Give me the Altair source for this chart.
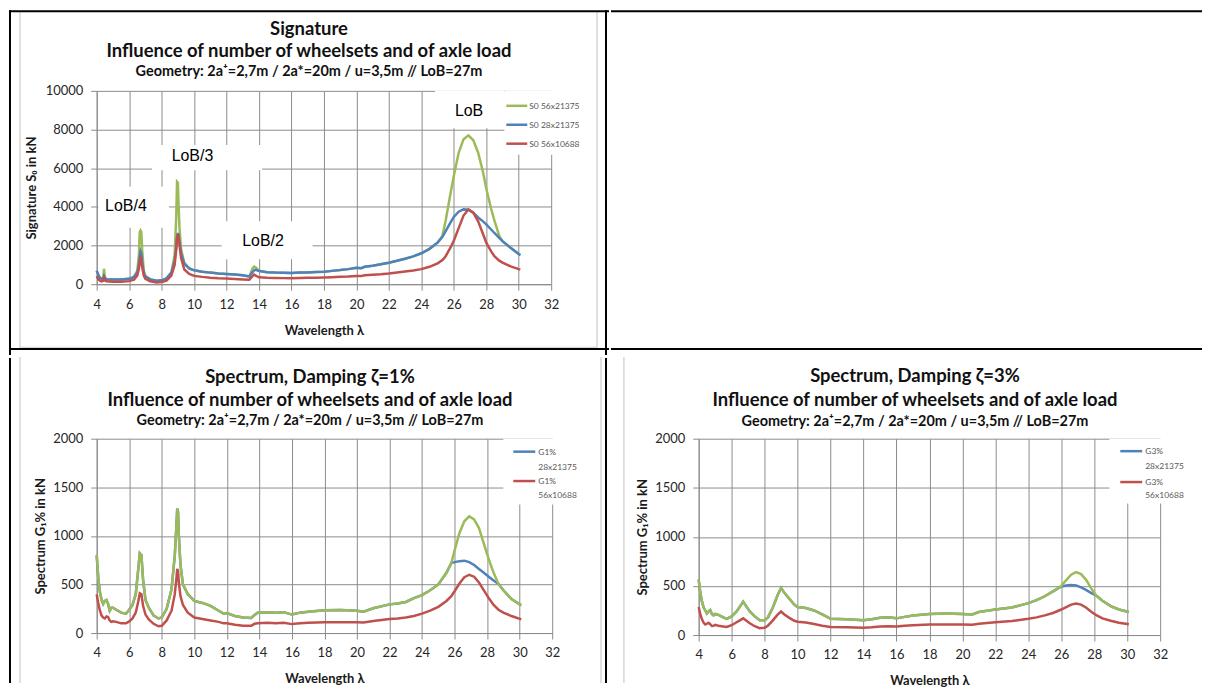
import altair as alt
import pandas as pd

# ---------------- data ----------------
TL_X = [4.0, 4.1, 4.2, 4.3, 4.4, 4.45, 4.5, 4.6, 5.0, 5.5, 6.0, 6.3, 6.5, 6.6, 6.65, 6.7, 6.75, 6.8, 6.9, 7.0,
        7.3, 7.7, 8.0, 8.3, 8.6, 8.8, 8.9, 8.95, 9.0, 9.05, 9.1, 9.2, 9.4, 9.7, 10.0, 10.5, 11.0, 11.5, 12.0, 12.5,
        13.0, 13.4, 13.6, 13.7, 13.8, 14.0, 14.5, 15.0, 15.5, 16.0, 16.5, 17.0, 17.5, 18.0, 18.5, 19.0, 19.5, 20.0,
        20.3, 20.5, 21.0, 21.5, 22.0, 22.5, 23.0, 23.5, 24.0, 24.5, 25.0, 25.3, 25.5, 25.8, 26.0, 26.3, 26.6, 26.9,
        27.2, 27.5, 27.8, 28.0, 28.3, 28.5, 28.8, 29.0, 29.5, 30.0, 30.1]
TL_S0_28x21375 = [700, 480, 330, 280, 300, 420, 320, 260, 240, 240, 280, 380, 600, 1000, 1450, 1700, 1600, 1150, 600, 400,
                  250, 180, 200, 300, 600, 1200, 1900, 2450, 2650, 2500, 2200, 1600, 1050, 820, 720, 650, 600, 560, 530, 500,
                  460, 400, 620, 720, 740, 680, 620, 600, 590, 580, 600, 610, 630, 650, 690, 730, 780, 850,
                  830, 900, 960, 1030, 1110, 1210, 1320, 1440, 1600, 1830, 2150, 2450, 2750, 3200, 3480, 3750, 3870, 3850,
                  3700, 3450, 3250, 3100, 2830, 2650, 2400, 2230, 1880, 1560, 1500]
TL_S0_56x21375 = [700, 480, 330, 280, 350, 800, 380, 260, 240, 240, 280, 380, 700, 1500, 2700, 2780, 2700, 1800, 700, 420,
                  250, 180, 200, 300, 600, 1500, 3500, 5300, 5250, 4000, 2900, 1800, 1100, 820, 720, 650, 600, 560, 530, 500,
                  460, 400, 820, 910, 860, 700, 620, 600, 590, 580, 600, 610, 630, 650, 690, 730, 780, 850,
                  830, 900, 960, 1030, 1110, 1210, 1320, 1440, 1600, 1830, 2150, 2500, 3300, 4700, 5600, 6800, 7500, 7700,
                  7450, 6800, 5800, 4950, 3900, 3300, 2500, 2230, 1880, 1560, 1500]
TL_S0_56x10688 = [420, 260, 180, 150, 180, 330, 200, 150, 130, 130, 160, 240, 450, 800, 1150, 1370, 1250, 900, 450, 280,
                  150, 90, 110, 190, 450, 1000, 1800, 2350, 2600, 2400, 2050, 1350, 760, 530, 430, 380, 340, 310, 290, 270,
                  250, 230, 420, 500, 440, 360, 330, 320, 315, 310, 320, 330, 335, 345, 360, 380, 400, 430,
                  420, 460, 490, 520, 560, 610, 660, 710, 780, 900, 1080, 1250, 1450, 1900, 2250, 2900, 3550, 3870,
                  3700, 3250, 2600, 2150, 1700, 1450, 1220, 1120, 920, 780, 760]

BL_X = [4.0, 4.1, 4.2, 4.3, 4.4, 4.5, 4.6, 4.7, 4.8, 4.9, 5.0, 5.2, 5.5, 5.8, 6.0, 6.2, 6.4, 6.55, 6.65, 6.75, 6.85, 7.0,
        7.2, 7.5, 7.8, 8.0, 8.3, 8.6, 8.8, 8.9, 8.95, 9.0, 9.05, 9.15, 9.3, 9.6, 10.0, 10.5, 11.0, 11.5, 11.8, 12.0,
        12.5, 13.0, 13.5, 13.7, 13.9, 14.5, 15.0, 15.5, 16.0, 16.5, 17.0, 18.0, 19.0, 20.0, 20.4, 21.0, 22.0, 22.5,
        23.0, 23.5, 24.0, 24.5, 25.0, 25.5, 25.8, 26.0, 26.3, 26.6, 26.9, 27.2, 27.5, 27.8, 28.1, 28.4, 28.7, 29.0,
        29.5, 30.1]
BL_G1_56x21375 = [800, 560, 420, 340, 300, 330, 340, 300, 230, 260, 260, 240, 210, 200, 240, 290, 400, 650, 820, 800, 550, 340,
                  260, 180, 150, 160, 250, 450, 800, 1100, 1280, 1250, 1000, 700, 500, 400, 330, 310, 280, 230, 200, 205,
                  175, 160, 155, 185, 210, 215, 210, 215, 190, 210, 220, 235, 238, 230, 220, 255, 295, 305,
                  320, 360, 390, 440, 500, 620, 720, 850, 1030, 1150, 1200, 1170, 1080, 920, 760, 620, 505, 440,
                  350, 285]
BL_G1_28x21375 = [800, 560, 420, 340, 300, 330, 340, 300, 230, 260, 260, 240, 210, 200, 240, 290, 400, 650, 820, 800, 550, 340,
                  260, 180, 150, 160, 250, 450, 800, 1100, 1280, 1250, 1000, 700, 500, 400, 330, 310, 280, 230, 200, 205,
                  175, 160, 155, 185, 210, 215, 210, 215, 190, 210, 220, 235, 238, 230, 220, 255, 295, 305,
                  320, 360, 390, 440, 500, 620, 720, 730, 740, 745, 730, 700, 660, 620, 580, 540, 505, 440,
                  350, 285]
BL_G1_56x10688 = [400, 300, 230, 180, 160, 150, 170, 165, 130, 115, 120, 115, 100, 100, 120, 150, 210, 320, 410, 400, 280, 190,
                  140, 95, 70, 75, 130, 230, 400, 560, 660, 640, 520, 380, 290, 210, 160, 145, 130, 115, 100, 100,
                  85, 75, 75, 95, 100, 105, 100, 105, 92, 100, 105, 112, 112, 110, 108, 125, 145, 150,
                  160, 175, 200, 230, 270, 330, 380, 430, 510, 575, 600, 580, 520, 440, 360, 290, 240, 210,
                  175, 140]

BR_X = [4.0, 4.1, 4.2, 4.3, 4.4, 4.5, 4.6, 4.7, 4.8, 4.9, 5.0, 5.2, 5.5, 5.7, 6.0, 6.3, 6.5, 6.7, 6.9, 7.1, 7.4,
        7.7, 8.0, 8.2, 8.5, 8.8, 9.0, 9.2, 9.5, 9.8, 10.0, 10.5, 11.0, 11.5, 12.0, 13.0, 14.0, 14.5, 15.0, 15.5, 16.0,
        16.5, 17.0, 18.0, 19.0, 20.0, 20.6, 21.0, 22.0, 23.0, 24.0, 24.5, 25.0, 25.5, 26.0, 26.3, 26.6, 26.9, 27.2,
        27.5, 27.8, 28.1, 28.5, 29.0, 29.5, 30.1]
BR_G3_56x21375 = [565, 430, 340, 280, 250, 220, 240, 255, 215, 200, 215, 205, 180, 165, 190, 240, 290, 340, 290, 240, 190,
                  150, 150, 180, 280, 410, 480, 430, 370, 310, 285, 275, 250, 210, 165, 160, 150, 160, 175, 180, 170,
                  185, 200, 215, 220, 215, 210, 235, 260, 280, 325, 355, 395, 445, 500, 560, 615, 640, 620,
                  565, 480, 405, 350, 295, 260, 235]
BR_G3_28x21375 = [565, 430, 340, 280, 250, 220, 240, 255, 215, 200, 215, 205, 180, 165, 190, 240, 290, 340, 290, 240, 190,
                  150, 150, 180, 280, 410, 480, 430, 370, 310, 285, 275, 250, 210, 165, 160, 150, 160, 175, 180, 170,
                  185, 200, 215, 220, 215, 210, 235, 260, 280, 325, 355, 395, 445, 495, 505, 510, 505, 485,
                  460, 430, 405, 350, 295, 260, 235]
BR_G3_56x10688 = [285, 210, 160, 125, 108, 115, 125, 110, 92, 95, 105, 95, 88, 82, 100, 130, 150, 170, 145, 120, 90,
                  70, 75, 95, 150, 210, 240, 210, 175, 145, 135, 128, 112, 95, 82, 80, 75, 80, 88, 90, 88,
                  95, 100, 107, 108, 107, 105, 115, 130, 142, 165, 180, 200, 225, 260, 285, 310, 320, 310,
                  280, 240, 205, 170, 145, 125, 110]

X_TICKS = [4, 6, 8, 10, 12, 14, 16, 18, 20, 22, 24, 26, 28, 30, 32]
TL_Y_TICKS = [0, 2000, 4000, 6000, 8000, 10000]
G_Y_TICKS = [0, 500, 1000, 1500, 2000]

TL_NOTES = ["LoB/4", "LoB/3", "LoB/2", "LoB"]
TL_NOTE_X = [5.8, 9.9, 14.25, 26.94]
TL_NOTE_Y = [4030, 6650, 2230, 8970]

# ---------------- styling ----------------
GREEN, BLUE, RED = "#9BBB59", "#4F81BD", "#C0504D"
FONT = "Lato"
GRID = "#8c8c8c"
FRAME = "#d6d6d6"
ONE = pd.DataFrame({"k": [0]})

# every cell shares the same left/top overhang, so the grid layout is regular
CELL_L, CELL_T = -88, -81


def long_df(xs, named):
    rows = []
    for name, ys in named:
        for x, y in zip(xs, ys):
            rows.append({"x": x, "y": y, "series": name})
    return pd.DataFrame(rows)


def vrule(x0, y0, x1, y1, color="black", width=2):
    return alt.Chart(ONE).mark_rule(color=color, strokeWidth=width).encode(
        x=alt.value(x0), x2=alt.value(x1), y=alt.value(y0), y2=alt.value(y1))


def vtext(txt, x, y, size, weight="normal", color="#000000", align="center", font=FONT):
    return alt.Chart(ONE).mark_text(text=txt, font=font, fontSize=size, fontWeight=weight, color=color,
                                    align=align, baseline="middle").encode(x=alt.value(x), y=alt.value(y))


def cell_frame(right, bottom):
    return alt.Chart(ONE).mark_rect(color="white", opacity=0).encode(
        x=alt.value(CELL_L), x2=alt.value(right), y=alt.value(CELL_T), y2=alt.value(bottom))


def panel(df, order, W, H, ymax, yticks, ytitle, ytitle_x, titles, cell, borders, frames, legend, legend_box,
          boxes=None, notes=None):
    xscale = alt.Scale(domain=[4, 32], nice=False, zero=False)
    yscale = alt.Scale(domain=[0, ymax], nice=False)
    xaxis = alt.Axis(values=X_TICKS, grid=True, gridColor=GRID, gridWidth=1, domainColor=GRID, tickColor=GRID,
                     tickSize=6, labelFont=FONT, labelFontSize=13, labelColor="#262626", labelPadding=8,
                     labelFlush=False, labelOverlap=False, title="Wavelength λ", titleFont=FONT, titleFontSize=13,
                     titleFontWeight="bold", titleColor="#1a1a1a", titleX=W / 2, titleY=46, titleAlign="center",
                     titleBaseline="middle")
    yaxis = alt.Axis(values=yticks, grid=True, gridColor=GRID, gridWidth=1, domainColor=GRID, tickColor=GRID,
                     tickSize=6, labelFont=FONT, labelFontSize=13, labelColor="#262626", labelPadding=8,
                     format="d", labelOverlap=False, title=ytitle, titleFont=FONT, titleFontSize=13,
                     titleFontWeight="bold", titleColor="#1a1a1a", titleAngle=270, titleX=ytitle_x, titleY=H / 2,
                     titleAlign="center", titleBaseline="middle")

    def X(f):
        return alt.X(f + ":Q", scale=xscale, axis=xaxis)

    def Y(f):
        return alt.Y(f + ":Q", scale=yscale, axis=yaxis)

    layers = [cell_frame(*cell)]
    # faint chart-area frame
    for fr in frames:
        layers.append(vrule(*fr, color=FRAME, width=1.5))
    # white boxes hiding the grid behind text boxes
    if boxes is not None:
        layers.append(alt.Chart(boxes).mark_rect(color="white").encode(
            x=X("x0"), x2="x1:Q", y=Y("y0"), y2="y1:Q"))
    bx0, by0, bx1, by1 = legend_box
    layers.append(alt.Chart(ONE).mark_rect(color="white").encode(
        x=alt.value(bx0), x2=alt.value(bx1), y=alt.value(by0), y2=alt.value(by1)))
    # data lines
    for name, color in order:
        layers.append(alt.Chart(df).transform_filter(alt.datum.series == name).mark_line(
            color=color, strokeWidth=2.5).encode(x=X("x"), y=Y("y")))
    if notes is not None:
        layers.append(alt.Chart(notes).mark_text(font="Liberation Sans", fontSize=16, color="black",
                                                 align="center", baseline="middle").encode(
            x=X("x"), y=Y("y"), text="label:N"))
    # titles
    (t1, t2, t3), tcx, (ty1, ty2, ty3) = titles
    layers.append(vtext(t1, tcx, ty1, 18.5, "bold", "#111111"))
    layers.append(vtext(t2, tcx, ty2, 18.5, "bold", "#111111"))
    layers.append(vtext(t3, tcx, ty3, 14.5, "bold", "#111111"))
    # legend
    lx0, lx1, tx, items = legend
    for lines, color, ys in items:
        layers.append(vrule(lx0, ys[0], lx1, ys[0], color, 2.5))
        for ln, yy in zip(lines, ys):
            layers.append(vtext(ln, tx, yy, 8.5, "normal", "#595959", "left"))
    # table borders
    for b in borders:
        layers.append(vrule(*b))
    return alt.layer(*layers).properties(width=W, height=H)


GEOM = "Geometry: 2a⁺=2,7m / 2a*=20m / u=3,5m // LoB=27m"
SUB = "Influence of number of wheelsets and of axle load"

tl_df = long_df(TL_X, [("S0 56x21375", TL_S0_56x21375), ("S0 28x21375", TL_S0_28x21375),
                       ("S0 56x10688", TL_S0_56x10688)])
tl_boxes = pd.DataFrame({"x0": [4.1, 7.4, 11.7, 24.84], "x1": [8.45, 14.2, 17.3, 29.1],
                         "y0": [2920, 5900, 1290, 8060], "y1": [5060, 7200, 3260, 10000]})
tl_notes = pd.DataFrame({"label": TL_NOTES, "x": TL_NOTE_X, "y": TL_NOTE_Y})
tl = panel(tl_df, [("S0 56x21375", GREEN), ("S0 28x21375", BLUE), ("S0 56x10688", RED)],
           456, 194, 10000, TL_Y_TICKS, "Signature S₀ in kN", -65,
           (("Signature", SUB, GEOM), 213, (-62, -39.5, -18.5)),
           (514, 265),
           [(-88, -80, 514, -80), (-87, -81, -87, 265), (-88, 259, 514, 259), (511, -81, 511, 265)],
           [(-77, -79, -77, 258), (502, -79, 502, 258), (-77, 257.5, 502, 257.5)],
           (411, 432, 434, [(["S0 56x21375"], GREEN, [15]), (["S0 28x21375"], BLUE, [34]),
                            (["S0 56x10688"], RED, [53])]),
           (409, 0, 494, 64), boxes=tl_boxes, notes=tl_notes)

tr = alt.layer(
    cell_frame(505, 265),
    vrule(-88, -80, 505, -80),
    vrule(-88, 259, 505, 259),
).properties(width=10, height=10)

bl_df = long_df(BL_X, [("G1% 56x21375", BL_G1_56x21375), ("G1% 28x21375", BL_G1_28x21375),
                       ("G1% 56x10688", BL_G1_56x10688)])
bl = panel(bl_df, [("G1% 28x21375", BLUE), ("G1% 56x21375", GREEN), ("G1% 56x10688", RED)],
           457, 195, 2000, G_Y_TICKS, "Spectrum G₁% in kN", -56,
           (("Spectrum, Damping ζ=1%", SUB, GEOM), 214, (-62, -39, -18)),
           (514, 245),
           [(-87, -81, -87, 245), (511, -81, 511, 245)],
           [(-77, -82, -77, 245), (506, -82, 506, 245)],
           (418, 440, 443, [(["G1%", "28x21375"], BLUE, [13, 28]), (["G1%", "56x10688"], RED, [42.5, 56.5])]),
           (408, 0, 490, 66))

br_df = long_df(BR_X, [("G3% 56x21375", BR_G3_56x21375), ("G3% 28x21375", BR_G3_28x21375),
                       ("G3% 56x10688", BR_G3_56x10688)])
br = panel(br_df, [("G3% 28x21375", BLUE), ("G3% 56x21375", GREEN), ("G3% 56x10688", RED)],
           463, 197, 2000, G_Y_TICKS, "Spectrum G₁% in kN", -56,
           (("Spectrum, Damping ζ=3%", SUB, GEOM), 217, (-63, -39, -17)),
           (505, 245),
           [],
           [(-75, -82, -75, 245)],
           (423, 445, 448, [(["G3%", "28x21375"], BLUE, [12.5, 27.5]), (["G3%", "56x10688"], RED, [43.5, 57])]),
           (412, 0, 496, 65))

chart = alt.concat(tl, tr, bl, br, columns=2, spacing=0).properties(
    padding=0, background="white"
).configure_view(stroke=None)

chart.save("out.html", embed_options={"renderer": "svg", "actions": False})
